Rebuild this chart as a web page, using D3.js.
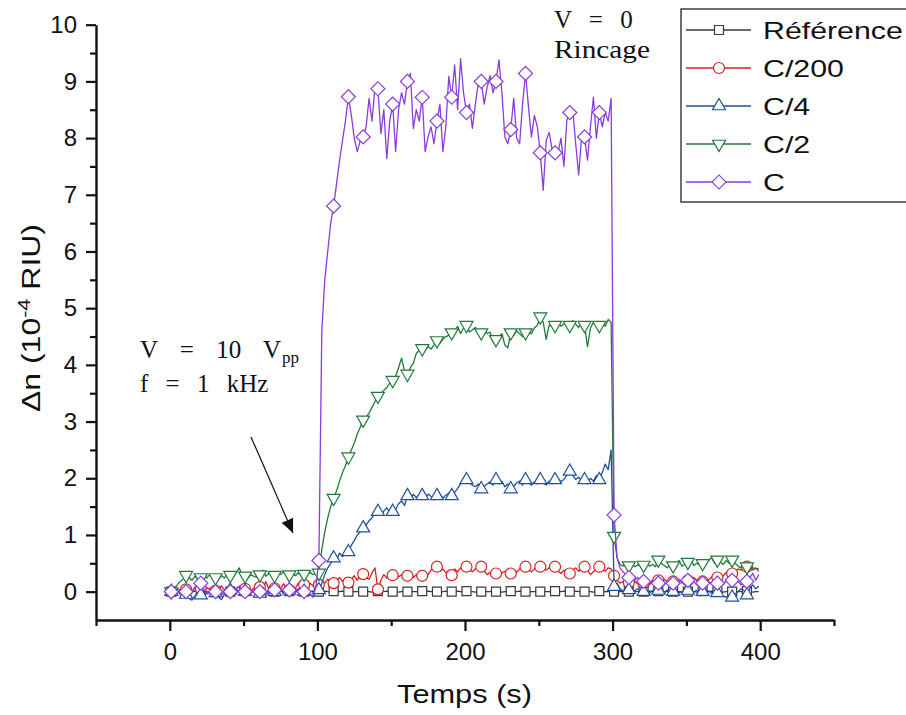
<!DOCTYPE html>
<html>
<head>
<meta charset="utf-8">
<script src="https://cdn.jsdelivr.net/npm/d3@7"></script>
<style>
  html, body { margin: 0; padding: 0; background: #fff; }
  svg { display: block; }
</style>
</head>
<body>
<svg id="chart" width="906" height="715"></svg>
<script>
// ---------------- DATA ----------------
// sample times (s), every 2 s
const time = d3.range(1, 400, 2);

const seriesNames = ["Référence", "C/200", "C/4", "C/2", "C"];

const refValues = [
  0,0.01,0,-0.01,0,   0.01,0,0,0.01,-0.01,   0,0.01,0,0,0.01,   -0.01,0,0.01,0,0,
  0,0,-0.01,0.01,0,   0.01,0,0,-0.01,0,   0,0.01,0,0,0.01,   0,-0.01,0,0.01,0,
  0.01,0,0,0,-0.01,   0,0.01,0,0.01,0,   0,0,0.01,0,-0.01,   0.01,0,0,0.01,0,
  0,-0.01,0,0,0.01,   0,0.01,0,-0.01,0,   0.01,0,0,0.01,0,   0,0,-0.01,0,0.01,
  0,0.01,0,0,-0.01,   0.01,0,0.01,0,0,   0,-0.01,0,0.01,0,   0,0,0.01,0,0,
  0.01,0,0,-0.01,0,   0,0.01,0,0,0.01,   0,0,-0.01,0,0,   0.01,0,0,0.01,0,
  0,-0.01,0,0,0.01,   0,0.01,0,0,-0.01,   0.01,0,0,0.01,0,   0,0,0.01,0,0,
  0,0.01,0,-0.01,0,   0.01,0,0,0,0.01,   0,-0.01,0,0.01,0,   0,0.01,0,0,0,
  0,0,0.01,0,-0.01,   0.01,0,0,0.01,0,   0,-0.01,0,0,0.01,   0,0.01,0,-0.01,0,
  0.01,0,0,0.01,0,   0,0,-0.01,0,0.01,   0,0.01,0,0,0,   0.01,0,-0.01,0,0
];

const c200Values = [
  0.0,0.02,0.05,0.03,0.06,   0.04,0.08,0.02,0.06,0.1,   0.05,0.0,0.07,0.04,0.08,   0.02,0.06,0.1,0.03,0.05,
  0.0,0.07,0.04,0.09,0.03,   0.05,0.1,0.02,0.06,0.04,   0.08,0.03,0.18,0.05,0.02,   0.06,0.1,0.04,0.14,0.07,
  0.03,0.09,0.05,0.15,0.08,   0.12,0.06,0.15,0.1,0.2,   0.12,0.2,0.15,0.22,0.18,   0.15,0.2,0.25,0.18,0.24,
  0.16,0.22,0.28,0.2,0.3,   0.31,0.25,0.22,0.33,0.42,   0.04,0.2,0.3,0.24,0.32,   0.29,0.35,0.26,0.3,0.24,
  0.28,0.33,0.25,0.3,0.22,   0.28,0.34,0.3,0.38,0.42,   0.44,0.36,0.4,0.33,0.38,   0.29,0.4,0.35,0.42,0.38,
  0.44,0.38,0.35,0.4,0.42,   0.44,0.36,0.3,0.34,0.3,   0.32,0.28,0.33,0.36,0.3,   0.32,0.38,0.34,0.4,0.42,
  0.44,0.38,0.35,0.4,0.44,   0.44,0.4,0.38,0.42,0.4,   0.44,0.36,0.32,0.38,0.34,   0.32,0.38,0.42,0.36,0.4,
  0.44,0.38,0.3,0.35,0.42,   0.44,0.38,0.36,0.42,0.4,   0.28,0.2,0.15,0.18,0.12,   0.16,0.1,0.18,0.14,0.2,
  0.15,0.2,0.12,0.18,0.15,   0.2,0.15,0.22,0.18,0.14,   0.18,0.22,0.16,0.2,0.24,   0.2,0.18,0.25,0.2,0.22,
  0.18,0.24,0.2,0.26,0.22,   0.25,0.3,0.28,0.34,0.3,   0.32,0.36,0.4,0.38,0.42,   0.44,0.4,0.38,0.42,0.36
];

const c4Values = [
  0.0,-0.02,0.03,-0.05,0.0,   -0.05,-0.12,-0.15,-0.08,-0.02,   -0.06,0.02,-0.04,0.0,0.03,   -0.02,-0.1,-0.14,-0.05,0.0,
  0.02,-0.03,0.04,0.0,-0.04,   0.0,0.05,-0.02,0.03,0.0,   -0.03,0.02,-0.06,0.0,0.04,   0.0,-0.04,0.02,-0.02,0.03,
  0.02,-0.03,0.0,0.05,-0.02,   0.0,0.03,-0.05,-0.08,0.0,   0.03,0.15,0.3,0.42,0.5,   0.59,0.55,0.68,0.62,0.66,
  0.7,0.82,0.9,1.0,1.05,   1.12,1.18,1.25,1.3,1.38,   1.41,1.35,1.42,1.48,1.4,   1.41,1.45,1.55,1.6,1.52,
  1.69,1.62,1.72,1.66,1.7,   1.69,1.65,1.72,1.68,1.62,   1.69,1.72,1.65,1.7,1.74,   1.69,1.75,1.82,1.9,1.95,
  1.97,1.92,1.88,1.85,1.9,   1.81,1.86,1.9,1.94,1.88,   1.97,1.9,1.95,1.85,1.9,   1.81,1.86,1.92,1.95,1.88,
  1.97,1.92,1.88,1.94,1.9,   1.97,1.92,1.88,1.95,1.9,   1.97,2.0,1.94,1.98,2.05,   2.12,2.05,1.98,2.02,1.95,
  1.97,1.9,2.0,1.95,2.05,   1.97,2.1,2.25,2.15,2.5,   0.09,0.15,0.05,0.02,0.0,   0.03,-0.02,0.02,0.05,0.0,
  0.0,0.03,-0.03,0.02,0.0,   0.02,0.0,-0.04,0.03,0.01,   0.0,0.02,-0.02,0.0,0.03,   0.02,-0.03,0.0,0.02,-0.02,
  0.0,0.03,0.01,-0.03,0.0,   -0.02,-0.05,-0.08,-0.1,-0.06,   -0.1,-0.04,0.0,0.05,0.02,   -0.06,0.06,0.12,0.05,0.1
];

const c2Values = [
  0.0,0.05,0.12,0.18,0.22,   0.29,0.25,0.2,0.27,0.22,   0.25,0.28,0.24,0.3,0.27,   0.25,0.22,0.28,0.24,0.3,
  0.29,0.26,0.33,0.42,0.3,   0.28,0.24,0.3,0.27,0.25,   0.3,0.38,0.27,0.32,0.3,   0.29,0.33,0.3,0.35,0.31,
  0.3,0.34,0.28,0.33,0.3,   0.31,0.29,0.34,0.3,0.32,   0.33,0.75,1.05,1.3,1.5,   1.65,1.78,1.95,2.1,2.22,
  2.38,2.5,2.62,2.78,2.9,   3.03,3.08,3.15,3.25,3.35,   3.45,3.5,3.55,3.6,3.68,   3.73,3.8,3.95,4.12,3.9,
  3.84,3.95,4.03,4.2,4.26,   4.29,4.25,4.32,4.28,4.35,   4.43,4.38,4.45,4.5,4.52,   4.57,4.62,4.68,4.55,4.65,
  4.7,4.58,4.62,4.66,4.6,   4.57,4.62,4.55,4.58,4.4,   4.45,4.5,4.55,4.35,4.3,   4.57,4.52,4.6,4.55,4.5,
  4.57,4.6,4.55,4.65,4.7,   4.85,4.75,4.45,4.7,4.68,   4.7,4.75,4.68,4.72,4.76,   4.7,4.78,4.72,4.66,4.74,
  4.7,4.32,4.65,4.75,4.72,   4.7,4.76,4.68,4.8,4.75,   0.98,0.6,0.48,0.45,0.47,   0.46,0.5,0.44,0.47,0.45,
  0.47,0.52,0.45,0.48,0.44,   0.56,0.5,0.46,0.42,0.48,   0.46,0.5,0.55,0.45,0.48,   0.52,0.58,0.46,0.5,0.47,
  0.5,0.48,0.55,0.6,0.5,   0.56,0.52,0.48,0.55,0.5,   0.56,0.5,0.45,0.42,0.46,   0.44,0.4,0.42,0.4,0.41
];

const cValues = [
  0.0,0.05,-0.03,0.02,-0.05,   0.0,0.06,-0.02,0.08,0.1,   0.15,0.05,0.0,-0.04,0.02,   0.0,0.04,-0.06,0.02,0.05,
  0.0,-0.04,0.05,0.1,0.02,   0.0,0.04,-0.03,0.02,0.06,   0.0,0.08,0.02,-0.05,0.03,   0.03,0.1,0.0,0.05,0.02,
  0.03,-0.02,0.06,0.0,0.04,   0.0,0.05,-0.05,-0.1,0.1,   0.55,4.6,5.5,6.0,6.5,   6.8,7.2,7.6,7.96,8.3,
  8.73,8.4,8.0,7.76,7.95,   8.02,8.2,8.7,8.3,8.9,   8.87,8.08,8.5,7.64,8.3,   8.6,7.76,8.5,8.8,8.6,
  9.0,9.14,8.17,8.5,8.3,   8.72,7.76,8.02,8.2,7.9,   8.3,8.6,7.76,8.2,9.09,   8.72,9.29,8.5,9.4,8.8,
  8.45,8.6,8.17,8.6,8.97,   9.0,8.6,8.9,9.1,8.8,   9.0,9.38,8.8,8.02,7.9,   8.15,8.7,8.0,7.9,8.6,
  9.14,8.55,8.02,8.4,8.2,   7.74,7.08,7.96,8.1,7.8,   7.74,7.73,8.0,7.5,8.32,   8.45,8.5,7.9,7.35,8.02,
  8.02,7.61,8.2,8.72,8.0,   8.45,8.2,8.45,8.3,8.7,   1.35,0.6,0.42,0.35,0.3,   0.25,0.3,0.2,0.25,0.2,
  0.18,0.22,0.15,0.2,0.18,   0.15,0.2,0.12,0.18,0.2,   0.15,0.18,0.22,0.15,0.2,   0.2,0.15,0.18,0.12,0.16,
  0.15,0.2,0.18,0.14,0.2,   0.15,0.18,0.12,0.2,0.16,   0.2,0.15,0.18,0.12,0.15,   0.18,0.25,0.32,0.2,0.3
];

const xTicks = [0, 100, 200, 300, 400];
const xMinorTicks = [-50, 50, 150, 250, 350, 450];
const yTicks = [0, 1, 2, 3, 4, 5, 6, 7, 8, 9, 10];
const yMinorTicks = [0.5, 1.5, 2.5, 3.5, 4.5, 5.5, 6.5, 7.5, 8.5, 9.5];

// ---------------- STYLE ----------------
const seriesValues = [refValues, c200Values, c4Values, c2Values, cValues];
const colors = ["#3a3a3a", "#d42020", "#2050a0", "#227a3a", "#8a3cdc"];
const markerTypes = ["square", "circle", "triangleUp", "triangleDown", "diamond"];
const SANS = "'Liberation Sans', Arial, sans-serif";
const SERIF = "'Liberation Serif', 'Times New Roman', serif";

const svg = d3.select("#chart");
const x = d3.scaleLinear().domain([-50, 450]).range([96, 834]);
const y = d3.scaleLinear().domain([-0.5, 10]).range([620, 24.7]);

function markerPath(type) {
  switch (type) {
    case "square": return d3.symbol().type(d3.symbolSquare).size(81)();
    case "circle": return d3.symbol().type(d3.symbolCircle).size(95)();
    case "triangleUp": return d3.symbol().type(d3.symbolTriangle).size(73)();
    case "triangleDown": return d3.symbol().type(d3.symbolTriangle).size(73)();
    case "diamond": return d3.symbol().type(d3.symbolSquare).size(98)();
  }
}
function markerRot(type) {
  if (type === "triangleDown") return " rotate(180)";
  if (type === "diamond") return " rotate(45)";
  return "";
}

const defs = svg.append("defs");
defs.append("marker").attr("id", "ah")
  .attr("viewBox", "0 0 10 10").attr("refX", 10).attr("refY", 5)
  .attr("markerWidth", 14).attr("markerHeight", 14).attr("markerUnits", "userSpaceOnUse")
  .attr("orient", "auto")
  .append("path").attr("d", "M0,0.5 L10,5 L0,9.5 Z").attr("fill", "#111");

// ---------------- AXES ----------------
const gx = svg.append("g").attr("transform", `translate(0,${y(-0.5)})`);
gx.call(d3.axisBottom(x).tickValues(xTicks).tickSize(11).tickPadding(12).tickSizeOuter(0).tickFormat(d3.format("d")));
const gxm = svg.append("g").attr("transform", `translate(0,${y(-0.5)})`);
gxm.call(d3.axisBottom(x).tickValues(xMinorTicks).tickSize(6).tickSizeOuter(0).tickFormat(""));

const gy = svg.append("g").attr("transform", `translate(${x(-50)},0)`);
gy.call(d3.axisLeft(y).tickValues(yTicks).tickSize(10).tickPadding(9).tickSizeOuter(0).tickFormat(d3.format("d")));
const gym = svg.append("g").attr("transform", `translate(${x(-50)},0)`);
gym.call(d3.axisLeft(y).tickValues(yMinorTicks).tickSize(6).tickSizeOuter(0).tickFormat(""));

gym.select(".domain").remove();
gxm.select(".domain").remove();
svg.selectAll(".domain").attr("stroke", "#111").attr("stroke-width", 2.4);
svg.selectAll(".tick line").attr("stroke", "#111").attr("stroke-width", 2.2);
svg.selectAll(".tick text").attr("font-family", SANS).attr("font-size", 24).attr("fill", "#111");

// axis titles
svg.append("text")
  .attr("x", 397).attr("y", 703)
  .attr("font-family", SANS).attr("font-size", 26).attr("fill", "#111")
  .attr("textLength", 135).attr("lengthAdjust", "spacingAndGlyphs")
  .text("Temps (s)");

const yt = svg.append("text")
  .attr("transform", "translate(40,412) rotate(-90)")
  .attr("font-family", SANS).attr("font-size", 25).attr("fill", "#111")
  .attr("textLength", 188).attr("lengthAdjust", "spacingAndGlyphs");
yt.append("tspan").text("Δn (10");
yt.append("tspan").attr("font-size", 17).attr("dy", -10).text("-4");
yt.append("tspan").attr("dy", 10).text(" RIU)");

// ---------------- SERIES ----------------
const line = d3.line().x(d => x(d[0])).y(d => y(d[1]));
seriesValues.forEach((vals, si) => {
  const pts = time.map((t, i) => [t, vals[i]]);
  const g = svg.append("g");
  g.append("path").datum(pts)
    .attr("fill", "none").attr("stroke", colors[si])
    .attr("stroke-width", 1.3).attr("stroke-linejoin", "round")
    .attr("d", line);
  g.selectAll("path.m").data(pts.filter((d, i) => i % 5 === 0))
    .join("path").attr("class", "m")
    .attr("d", markerPath(markerTypes[si]))
    .attr("transform", d => `translate(${x(d[0])},${y(d[1])})${markerRot(markerTypes[si])}`)
    .attr("fill", "#fff").attr("stroke", colors[si]).attr("stroke-width", 1.2);
});

// ---------------- LEGEND ----------------
const lg = svg.append("g");
lg.append("rect").attr("x", 681).attr("y", 9).attr("width", 240).attr("height", 193)
  .attr("fill", "#fff").attr("stroke", "#333").attr("stroke-width", 1.4);
seriesNames.forEach((name, i) => {
  const ry = 30 + i * 38;
  lg.append("line").attr("x1", 686).attr("x2", 751).attr("y1", ry).attr("y2", ry)
    .attr("stroke", colors[i]).attr("stroke-width", 1.3);
  lg.append("path").attr("d", markerPath(markerTypes[i]))
    .attr("transform", `translate(719,${ry})${markerRot(markerTypes[i])}`)
    .attr("fill", "#fff").attr("stroke", colors[i]).attr("stroke-width", 1.2);
  lg.append("text")
    .attr("transform", `translate(763,${ry + 8.5}) scale(1.29,1)`)
    .attr("font-family", SANS).attr("font-size", 23.5).attr("fill", "#111")
    .text(name);
});

// ---------------- ANNOTATIONS ----------------
const a1 = svg.append("text").attr("x", 140).attr("y", 358)
  .attr("font-family", SERIF).attr("font-size", 25).attr("fill", "#111")
  .attr("word-spacing", 16);
a1.append("tspan").text("V = 10 V");
a1.append("tspan").attr("font-size", 17).attr("dx", 1).attr("dy", 5).attr("word-spacing", 0).text("pp");
svg.append("text").attr("x", 140).attr("y", 392)
  .attr("font-family", SERIF).attr("font-size", 25).attr("fill", "#111")
  .attr("word-spacing", 11)
  .text("f = 1 kHz");
svg.append("text").attr("x", 554).attr("y", 28)
  .attr("font-family", SERIF).attr("font-size", 25).attr("fill", "#111")
  .attr("word-spacing", 11)
  .text("V = 0");
svg.append("text").attr("x", 554).attr("y", 58)
  .attr("font-family", SERIF).attr("font-size", 26).attr("fill", "#111")
  .attr("textLength", 96).attr("lengthAdjust", "spacingAndGlyphs")
  .text("Rincage");

// arrow
svg.append("line").attr("x1", 251).attr("y1", 437).attr("x2", 293).attr("y2", 533)
  .attr("stroke", "#111").attr("stroke-width", 1.2).attr("marker-end", "url(#ah)");
</script>
</body>
</html>
